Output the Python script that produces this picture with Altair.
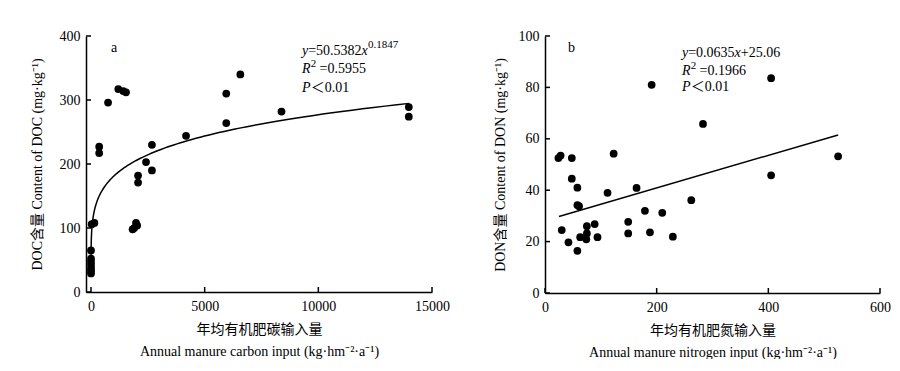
import altair as alt
import numpy as np
import pandas as pd

FONT = "Liberation Serif, Noto Sans CJK SC"

# ---- Panel a data: manure carbon input vs DOC ----
doc_x = [0, 0, 0, 0, 0, 0, 0, 30, 150, 360, 360, 750, 1200, 1420, 1540,
         1830, 1900, 1980, 2030, 2070, 2070, 2420, 2680, 2680, 4180,
         5950, 5950, 6570, 8380, 13980, 13980]
doc_y = [65, 52, 47, 42, 37, 33, 29, 106, 108, 227, 217, 296, 317, 314, 312,
         98, 100, 108, 104, 182, 171, 203, 230, 190, 244,
         310, 264, 340, 282, 289, 274]
# fitted power curve printed on the chart: y = 50.5382 x^0.1847
doc_a = 50.5382
doc_b = 0.1847
doc_curve_x = list(np.geomspace(0.1, 14000, 300))

# ---- Panel b data: manure nitrogen input vs DON ----
don_x = [24, 28, 30, 42, 48, 48, 58, 58, 61, 58, 63, 75, 75, 74, 89, 94,
         112, 123, 149, 149, 164, 179, 188, 191, 210, 229, 262, 283, 405, 405, 525]
don_y = [52.5, 53.5, 24.5, 19.7, 52.5, 44.5, 41, 34.2, 33.8, 16.4, 21.7, 26,
         23.2, 20.9, 26.8, 21.7, 39, 54.2, 27.7, 23.2, 40.9, 32, 23.6, 81,
         31.2, 21.9, 36.1, 65.8, 83.6, 45.8, 53.2]
don_line_x = [25, 525]
don_line_y = [29.8, 61.5]

doc_xticks = [0, 5000, 10000, 15000]
doc_yticks = [0, 100, 200, 300, 400]
don_xticks = [0, 200, 400, 600]
don_yticks = [0, 20, 40, 60, 80, 100]

WA, HA = 346, 256
WB, HB = 335, 257
TICK = 5
FS = 14
AFS = 14
SFS = 11


def txt(s, x, y, size=AFS, style="normal", align="left"):
    return alt.Chart(pd.DataFrame({"t": [s]})).mark_text(
        text=s, font=FONT, fontSize=size, fontStyle=style, align=align,
        baseline="alphabetic", color="black"
    ).encode(x=alt.value(x), y=alt.value(y))


def axis(values, title, orient, tpad, lpad):
    return alt.Axis(values=values, ticks=False, grid=False, format="d",
                    labelPadding=lpad, labelFlush=False, domainColor="black",
                    domainWidth=1.5, labelFont=FONT, labelFontSize=FS,
                    labelColor="black", title=title, titleFont=FONT,
                    titleFontSize=FS, titleFontWeight="normal",
                    titleColor="black", titlePadding=tpad, titleLineHeight=22,
                    orient=orient)


def panel(px, py, cx, cy, xdom, ydom, xt, yt, xtitle, ytitle, W, H, ytp):
    xs = alt.Scale(domain=xdom, nice=False, zero=False)
    ys = alt.Scale(domain=ydom, nice=False, zero=False)
    pts = alt.Chart(pd.DataFrame({"x": px, "y": py})).mark_circle(
        size=60, color="black", opacity=1
    ).encode(
        x=alt.X("x:Q", scale=xs, axis=axis(xt, xtitle, "bottom", 9, 7)),
        y=alt.Y("y:Q", scale=ys, axis=axis(yt, ytitle, "left", ytp, 6)),
    )
    fit = alt.Chart(pd.DataFrame({"x": cx, "y": cy})).mark_line(
        color="black", strokeWidth=1.5
    ).encode(x=alt.X("x:Q", scale=xs), y=alt.Y("y:Q", scale=ys))
    xtk = alt.Chart(pd.DataFrame({"v": xt})).mark_rule(
        color="black", strokeWidth=1.5
    ).encode(x=alt.X("v:Q", scale=xs), y=alt.value(H), y2=alt.value(H - TICK))
    ytk = alt.Chart(pd.DataFrame({"v": yt})).mark_rule(
        color="black", strokeWidth=1.5
    ).encode(y=alt.Y("v:Q", scale=ys), x=alt.value(0), x2=alt.value(TICK))
    return alt.layer(fit, pts, xtk, ytk).properties(width=W, height=H)


doc_curve_y = [doc_a * v ** doc_b for v in doc_curve_x]

left = panel(doc_x, doc_y, doc_curve_x, doc_curve_y, [-220, 15000], [0, 400],
             doc_xticks, doc_yticks,
             ["年均有机肥碳输入量", "Annual manure carbon input (kg·hm⁻²·a⁻¹)"],
             "DOC含量 Content of DOC (mg·kg⁻¹)", WA, HA, 15)
# annotations panel a
ax0 = 216
left = alt.layer(
    left,
    txt("a", 25, 16, size=14),
    txt("y", ax0, 19, style="italic"),
    txt("=50.5382", ax0 + 6.2, 19),
    txt("x", ax0 + 59.6, 19, style="italic"),
    txt("0.1847", ax0 + 66, 12, size=SFS),
    txt("R", ax0, 37, style="italic"),
    txt("2", ax0 + 8.8, 31, size=SFS),
    txt("=0.5955", ax0 + 17.5, 37),
    txt("P", ax0, 56, style="italic"),
    txt("＜0.01", ax0 + 8.8, 56),
)

right = panel(don_x, don_y, don_line_x, don_line_y, [0, 600], [0, 100],
              don_xticks, don_yticks,
              ["年均有机肥氮输入量", "Annual manure nitrogen input  (kg·hm⁻²·a⁻¹)"],
              "DON含量 Content of DON (mg·kg⁻¹)", WB, HB, 11)
bx0 = 137
right = alt.layer(
    right,
    txt("b", 23, 16, size=14),
    txt("y", bx0, 21, style="italic"),
    txt("=0.0635", bx0 + 6.2, 21),
    txt("x", bx0 + 52.6, 21, style="italic"),
    txt("+25.06", bx0 + 58.8, 21),
    txt("R", bx0, 39, style="italic"),
    txt("2", bx0 + 8.8, 33, size=SFS),
    txt("=0.1966", bx0 + 17.5, 39),
    txt("P", bx0, 55, style="italic"),
    txt("＜0.01", bx0 + 8.8, 55),
)

chart = alt.hconcat(left, right, spacing=43).properties(
    padding={"left": 22, "top": 21, "right": 0, "bottom": 0}
).configure_view(stroke=None)

chart.save("out.html", embed_options={"renderer": "svg", "actions": False})
